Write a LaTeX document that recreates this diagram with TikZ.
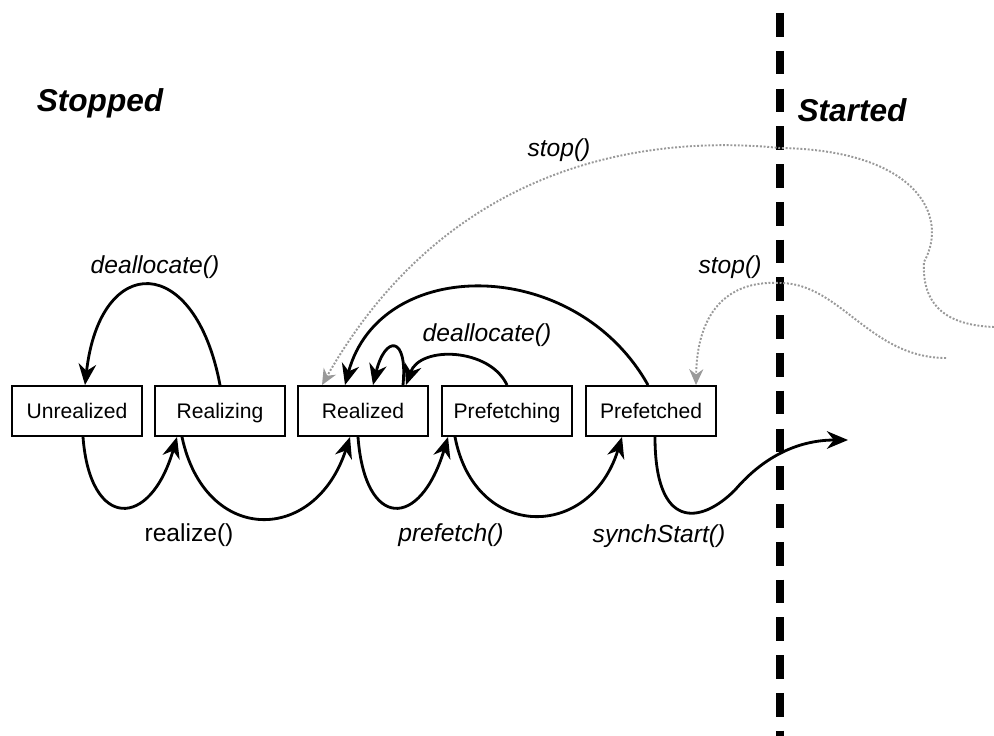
\documentclass[tikz,border=0pt]{standalone}
\usepackage{fontspec}
\setmainfont{Liberation Sans}
\usetikzlibrary{arrows.meta}

\begin{document}
\begin{tikzpicture}[x=0.02cm, y=-0.02cm,
        state/.style={draw, line width=1.1pt, minimum width=2.6cm, minimum height=1cm, inner sep=0pt, text height=8.6pt, text depth=0pt, font=\fontsize{12}{14}\selectfont},
        trans/.style={line width=1.6pt, -{Stealth[length=12pt, width=10pt]}},
        stopcall/.style={gray!80, line width=1.1pt, densely dotted, -{Stealth[length=9pt, width=8pt]}},
        call/.style={font=\fontsize{14}{16}\selectfont\itshape},
        side/.style={font=\fontsize{18}{20}\selectfont\bfseries\itshape}]
    \useasboundingbox (0,0) rectangle (994,736);

    % the player states
    \node[state] (unrealized) at (77,411) {Unrealized};
    \node[state] (realizing) at (220,411) {Realizing};
    \node[state] (realized) at (363,411) {Realized};
    \node[state] (prefetching) at (507,411) {Prefetching};
    \node[state] (prefetched) at (651,411) {Prefetched};

    % stopped / started border
    \draw[line width=4pt, dash pattern=on 13.5pt off 8pt] (780,13) -- (780,740);
    \node[side] (stopped) at (100,103) {Stopped};
    \node[side] (started) at (852,110) {Started};

    % forward transitions
    \draw[trans] ([shift={(6,0)}]unrealized.south) .. controls (90,530) and (150,530) .. ([shift={(-43,0)}]realizing.south);
    \draw[trans] ([shift={(-38,0)}]realizing.south) .. controls (205,545) and (315,545) .. ([shift={(-13,0)}]realized.south);
    \draw[trans] ([shift={(-5,0)}]realized.south) .. controls (365,530) and (420,530) .. ([shift={(-59,0)}]prefetching.south);
    \draw[trans] ([shift={(-52,0)}]prefetching.south) .. controls (475,541) and (590,541) .. ([shift={(-29,0)}]prefetched.south);
    \coordinate (run) at (848,440);
    \draw[trans] ([shift={(4,0)}]prefetched.south) .. controls (655,530) and (700,525) .. (735,490)
        .. controls (765,455) and (800,440) .. (run);
    \node[call, font=\fontsize{14}{16}\selectfont\upshape] (realize) at (189,535) {realize()};
    \node[call] (prefetch) at (451,535) {prefetch()};
    \node[call] (synchstart) at (659,536) {synchStart()};

    % deallocate and the way back to Realized
    \draw[trans] (realizing.north) .. controls (195,252) and (100,252) .. ([shift={(8,0)}]unrealized.north);
    \draw[trans] ([shift={(40,0)}]realized.north) .. controls (408,335) and (385,335) .. ([shift={(10,0)}]realized.north);
    \draw[trans] (prefetching.north) .. controls (490,348) and (420,345) .. ([shift={(43,0)}]realized.north);
    \draw[trans] ([shift={(-3,0)}]prefetched.north) .. controls (575,255) and (380,255) .. ([shift={(-18,0)}]realized.north);
    \node[call] (dealloc1) at (155,267) {deallocate()};
    \node[call] (dealloc2) at (487,335) {deallocate()};

    % stop() from the started side
    \coordinate (far1) at (994,327);
    \coordinate (far2) at (946,358);
    \draw[stopcall] (far1) .. controls (940,325) and (922,300) .. (924,262)
        .. controls (950,215) and (915,150) .. (780,148)
        .. controls (650,135) and (450,160) .. ([shift={(-41,0)}]realized.north);
    \draw[stopcall] (far2) .. controls (870,358) and (840,283) .. (780,283)
        .. controls (725,280) and (697,315) .. ([shift={(45,0)}]prefetched.north);
    \node[call] (stop1) at (559,150) {stop()};
    \node[call] (stop2) at (730,267) {stop()};
\end{tikzpicture}
\end{document}
